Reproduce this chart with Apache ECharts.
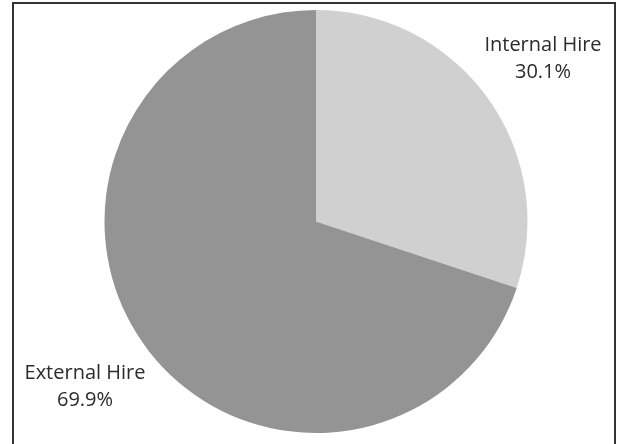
<!DOCTYPE html>
<html><head><meta charset="utf-8">
<script src="https://cdn.jsdelivr.net/npm/echarts@6/dist/echarts.min.js"></script>
<style>html,body{margin:0;padding:0;background:#fff}#c{width:621px;height:444px}</style>
</head><body><div id="c"></div>
<script>
const categories = ['Internal Hire', 'External Hire'];
const values = [30.1, 69.9];
const colors = ['#d0d0d0', '#949494'];
const labelPos = [[543, 59], [85, 387]];

const chart = echarts.init(document.getElementById('c'), null, {renderer: 'canvas'});
chart.setOption({
  animation: false,
  backgroundColor: '#ffffff',
  graphic: [{
    type: 'rect', z: 100,
    shape: {x: 13, y: 3, width: 602, height: 450},
    style: {fill: 'none', stroke: '#333', lineWidth: 2}
  }],
  series: [{
    type: 'pie',
    center: [316, 221.5],
    radius: [0, 211.5],
    startAngle: 90,
    clockwise: true,
    label: {
      show: true,
      position: 'outside',
      alignTo: 'none',
      overflow: 'none',
      formatter: p => p.name + '\n' + p.value.toFixed(1) + '%',
      fontFamily: 'Open Sans',
      fontSize: 20,
      lineHeight: 27,
      color: '#2b2b2b',
      align: 'center'
    },
    labelLine: {show: false},
    labelLayout: p => ({x: labelPos[p.dataIndex][0], y: labelPos[p.dataIndex][1], align: 'center', verticalAlign: 'middle', width: 200}),
    emphasis: {disabled: true},
    data: categories.map((c, i) => ({name: c, value: values[i], itemStyle: {color: colors[i]}}))
  }]
});
</script></body></html>
